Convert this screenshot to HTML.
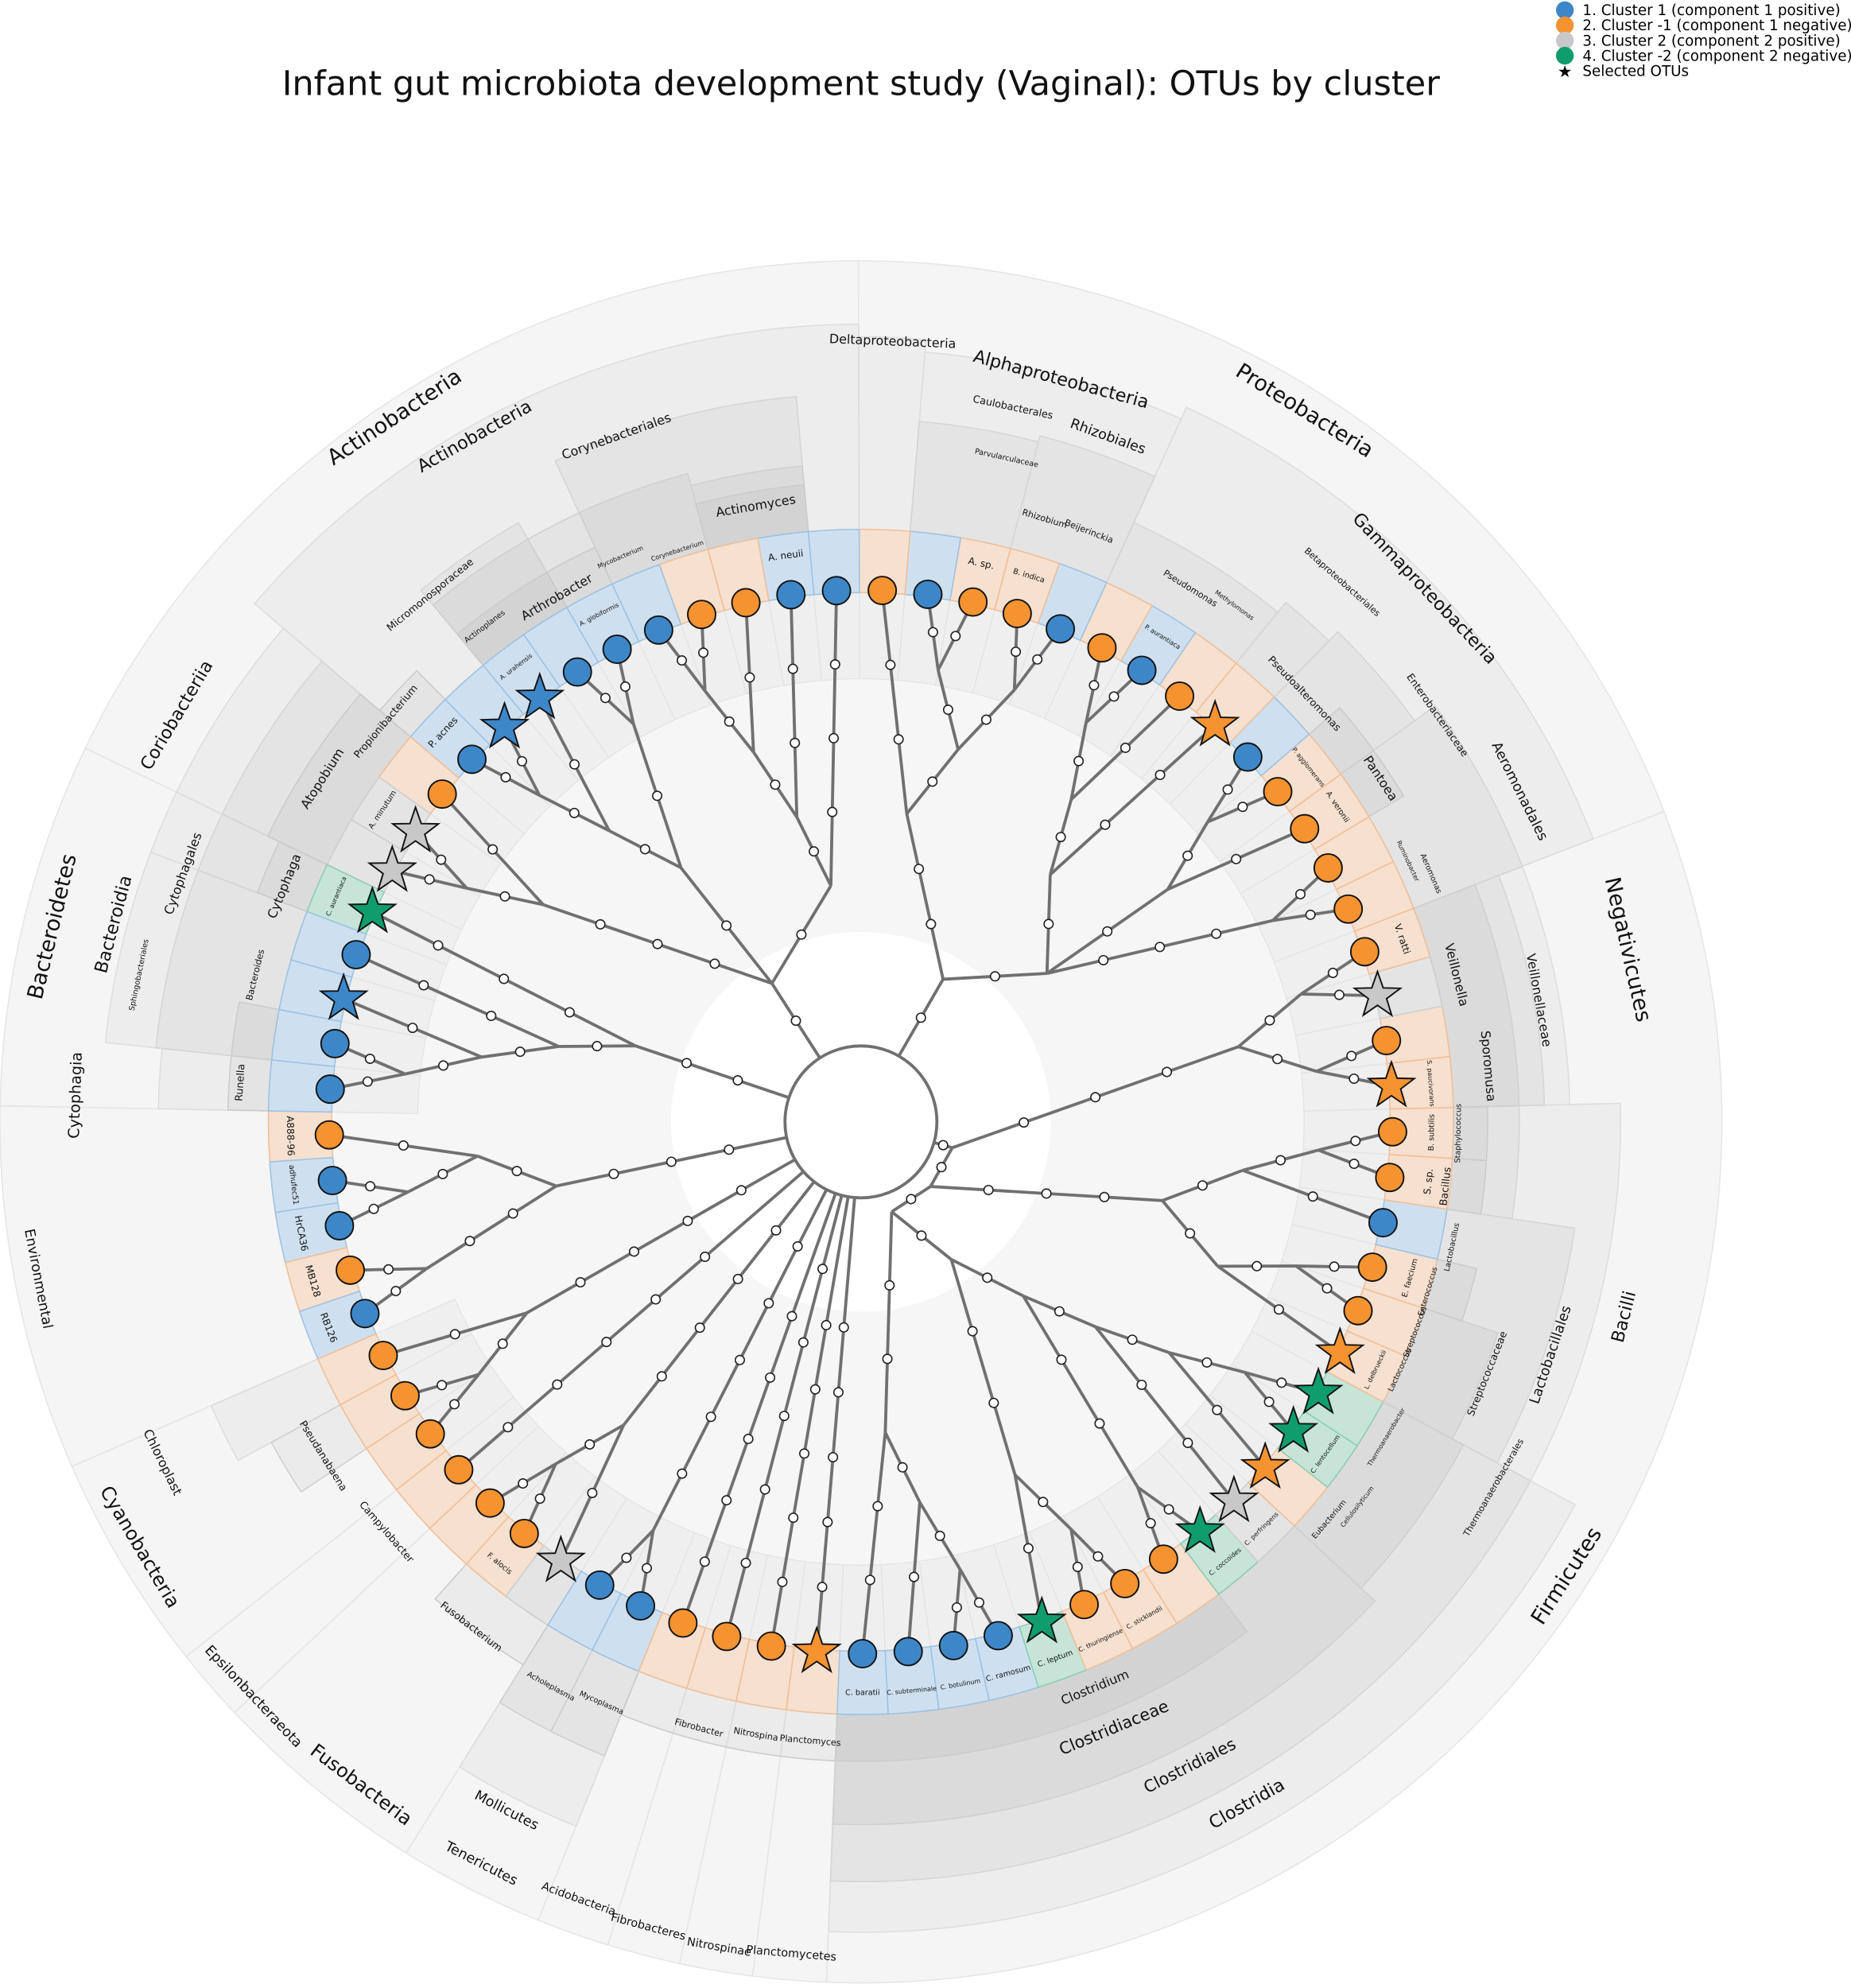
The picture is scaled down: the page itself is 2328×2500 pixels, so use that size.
<!DOCTYPE html>
<html><head><meta charset="utf-8">
<style>
html,body{margin:0;padding:0;background:#fff;}
svg{display:block;font-family:"DejaVu Sans","Liberation Sans",sans-serif;}
</style></head>
<body>
<svg id="chart" width="2328" height="2500" viewBox="0 0 1462 1570" xmlns="http://www.w3.org/2000/svg">
<rect x="0" y="0" width="1462" height="1570" fill="#ffffff"/>
<text x="680" y="75" font-size="27" text-anchor="middle" fill="#111">Infant gut microbiota development study (Vaginal): OTUs by cluster</text>
<g id="rings"></g>
<g id="tree"></g>
<g id="leaves"></g>
<g id="labels"></g>
<g>
<circle cx="1236" cy="8" r="7" fill="#3d87c8"/>
<text x="1250" y="12" font-size="11.5">1. Cluster 1 (component 1 positive)</text>
<circle cx="1236" cy="20" r="7" fill="#f59331"/>
<text x="1250" y="24" font-size="11.5">2. Cluster -1 (component 1 negative)</text>
<circle cx="1236" cy="32" r="7" fill="#c8c8c8"/>
<text x="1250" y="36" font-size="11.5">3. Cluster 2 (component 2 positive)</text>
<circle cx="1236" cy="44" r="7" fill="#0f9d6e"/>
<text x="1250" y="48" font-size="11.5">4. Cluster -2 (component 2 negative)</text>
<text x="1236" y="61" font-size="13" text-anchor="middle">★</text>
<text x="1250" y="60" font-size="11.5">Selected OTUs</text>
</g>
</svg>
<script>
// ---- data ----
const leafClusters = ["-1","1","1","-1","1","-1","-1","-1","-1","-1","-1","2","1","1","-1","-1","-1","-1",
 "1","1","1","1","-2","-1","-1","-1","-2","2","-1","-2","-2","-1","-1","-1","1","-1","-1","-1","-1","2","-1",
 "-1","-1","-1","-1","1","-1","-1","1","-1","1","-1","-1","1","-1","1","1","-1","-1","1","1","1","1","1","1","-1","2","2","-2","1","1","1","1"];
const leafSelected = [0,0,0,0,0,0,0,0,0,0,0,1,0,0,0,0,0,1,
 0,0,0,0,1,0,0,0,1,1,1,1,1,1,0,0,0,0,0,1,0,1,0,
 0,0,0,0,0,1,0,0,0,0,0,0,0,0,0,0,0,0,0,0,0,1,1,0,0,1,1,1,0,1,0,0];
const leafNames = ["A888-96","adhufec51","HrCA36","MB128","RB126","","","","","","F. alocis","","","","","","","",
 "C. baratii","C. subterminale","C. botulinum","C. ramosum","C. leptum","C. thuringiense","C. sticklandii","","C. coccoides","C. perfringens","","C. lentocellum","","L. delbrueckii","","E. faecium","","S. sp.","B. subtilis","S. paucivorans","","","V. ratti",
 "","","A. veronii","P. agglomerans","","","","P. aurantiaca","","","B. indica","A. sp.","","","","A. neuii","","","","A. globiformis","","A. urahensis","","P. acnes","","A. minutum","","C. aurantiaca","","","",""];
// tree topology (leaf numbers, 1-based)
const treeTopology = [
 [[1,[2,3]],[4,5]], [6,[7,8]], 9, [[10,11],12], [13,14], 15, 16, 17, 18,
 [[[[19,[20,[21,22]]],[[23,[24,25]],[[26,27],[28,[29,[30,31]]]]]],[[32,[33,34]],[35,[36,37]]]],[[38,39],[40,41]]],
 [[[42,43],[44,[45,46]],[47,[48,[49,50]]]],[[[51,52],[53,54]],55]],
 [[56,[57,[58,[59,60]]]],[[61,62],[63,[64,65]]],[66,[67,68]]],
 [69,[70,[71,[72,73]]]]
];
// taxonomy sectors: [firstLeaf, lastLeaf, outerRadius]
const phylumSectors = [[1,5,680],[6,8,680],[9,9,680],[10,12,680],[13,14,680],[15,15,680],[16,16,680],[17,17,680],[18,18,680],[19,41,680],[42,55,680],[56,68,680],[69,73,680]];
const classSectors = [[19,31,640],[32,37,600],[38,41,560],[42,50,620],[51,54,610],[55,55,620],[56,65,630],[66,68,600],[70,72,600],[73,73,555],[13,14,600],[6,6,560],[69,69,600]];
const orderSectors = [[19,31,600],[32,35,570],[36,37,520],[38,41,540],[42,44,560],[45,46,540],[47,47,530],[48,50,520],[51,52,560],[53,54,555],[57,60,575],[62,63,545],[69,69,560],[70,72,560],[66,68,560]];
const familySectors = [[19,28,555],[32,33,530],[38,41,520],[61,63,530],[57,58,520],[59,60,530],[29,31,540],[14,14,540],[13,13,540],[7,7,530]];
const genusSectors = [[19,26,505],[57,58,505],[61,63,500],[65,65,500],[34,34,500],[36,36,495],[37,37,495],[44,45,500],[66,68,520],[69,69,510],[72,73,500],[11,12,505],[15,18,505]];
// group labels: [text, x, y, size]
const groupLabels = [
 ["Actinobacteria",312,330,17],["Proteobacteria",1030,325,17],["Negativicutes",1285,750,17],["Firmicutes",1238,1245,17],
 ["Bacteroidetes",42,732,17],["Cyanobacteria",110,1222,15],["Fusobacteria",285,1410,15],
 ["Epsilonbacteraeota",200,1340,11],["Tenericutes",380,1472,11],["Acidobacteria",457,1500,9],["Fibrobacteres",512,1522,9],
 ["Nitrospinae",568,1538,9],["Planctomycetes",625,1543,9],["Environmental",30,1010,11],
 ["Actinobacteria",375,345,14],["Coriobacteriia",140,565,14],["Bacteroidia",90,730,14],["Alphaproteobacteria",838,300,14],
 ["Gammaproteobacteria",1125,465,14],["Bacilli",1283,1040,14],["Clostridia",985,1425,14],["Mollicutes",400,1430,11],
 ["Deltaproteobacteria",705,270,10],["Cytophagia",60,865,12],["Chloroplast",128,1155,10],
 ["Clostridiales",940,1395,13],["Lactobacillales",1225,1070,11],["Aeromonadales",1200,625,11],["Rhizobiales",875,345,11],
 ["Caulobacterales",800,322,8],["Corynebacteriales",487,345,10],["Cytophagales",145,690,10],["Betaproteobacteriales",1060,460,7],
 ["Thermoanaerobacterales",1180,1175,7],["Sphingobacteriales",110,770,6],
 ["Clostridiaceae",880,1365,13],["Veillonellaceae",1215,790,10],["Streptococcaceae",1175,1085,8],["Enterobacteriaceae",1135,565,8],
 ["Parvularculaceae",795,362,6],["Micromonosporaceae",340,470,8],
 ["Clostridium",865,1333,10],["Sporomusa",1175,842,10],["Veillonella",1150,770,10],["Bacillus",1142,937,8],["Staphylococcus",1152,895,6],
 ["Lactobacillus",1147,985,6],["Pantoea",1090,615,10],["Pseudoalteromonas",1030,548,8],["Pseudomonas",940,465,7],["Methylomonas",975,478,5],
 ["Rhizobium",825,410,7],["Beijerinckia",860,420,7],["Actinomyces",597,400,10],["Corynebacterium",535,435,5],["Mycobacterium",490,440,5],
 ["Arthrobacter",440,472,10],["Actinoplanes",383,495,6],["Propionibacterium",305,570,8],["Atopobium",255,615,10],["Cytophaga",225,700,10],
 ["Bacteroides",202,770,7],["Runella",190,855,8],["Pseudanabaena",255,1150,8],["Campylobacter",305,1210,8],["Fusobacterium",372,1285,8],
 ["Acholeplasma",435,1332,6],["Mycoplasma",475,1345,6],["Fibrobacter",552,1365,7],["Nitrospina",597,1370,7],["Planctomyces",640,1375,7],
 ["Eubacterium",1050,1200,6],["Streptococcus",1118,1052,6],["Enterococcus",1128,1020,6],["Aeromonas",1130,690,6],["Ruminobacter",1112,680,5],
 ["Cellulosilyticum",1072,1190,5],["Lactococcus",1106,1082,6],["Thermoanaerobacter",1095,1135,5]
];
// ---- geometry ----
const CX=680, CY=886, RLEAF=420, NL=leafClusters.length;
const STEP=360/NL, A0=178.6;
const ns="http://www.w3.org/2000/svg";
const fillC={"1":"#3d87c8","-1":"#f59331","2":"#c8c8c8","-2":"#0f9d6e"};
const bandC={"1":"#c7dcee","-1":"#f6dcc8","2":"#e0e0e0","-2":"#bde0d2"};
const bandS={"1":"#9fc3e3","-1":"#f1c09a","2":"#cfcfcf","-2":"#8fcdb4"};
function ang(i){return A0-(i-1)*STEP;}
function pt(r,a){const t=a*Math.PI/180;return [CX+r*Math.cos(t),CY+r*Math.sin(t)];}
function el(tag,attrs,parent){const e=document.createElementNS(ns,tag);for(const k in attrs)e.setAttribute(k,attrs[k]);parent.appendChild(e);return e;}
function sectorPath(r0,r1,a0,a1){
 const p1=pt(r1,a0),p2=pt(r1,a1),p3=pt(r0,a1),p4=pt(r0,a0);const lg=Math.abs(a1-a0)>180?1:0;
 const sw=a1>a0?1:0;
 return `M${p1[0]},${p1[1]} A${r1},${r1} 0 ${lg} ${sw} ${p2[0]},${p2[1]} L${p3[0]},${p3[1]} A${r0},${r0} 0 ${lg} ${1-sw} ${p4[0]},${p4[1]} Z`;
}
const rings=document.getElementById('rings');
let c=el('circle',{cx:CX,cy:CY,r:680,fill:'#f9f9f9'},rings);


c=el('circle',{cx:CX,cy:CY,r:418,fill:'#f6f6f6'},rings);


c=el('circle',{cx:CX,cy:CY,r:150,fill:'#ffffff'},rings);


function drawSectors(list,fill,stroke,name){
 list.forEach((s,k)=>{
  const a0=ang(s[0])+STEP/2, a1=ang(s[1])-STEP/2;
  const p=el('path',{d:sectorPath(RLEAF+48,s[2],a1,a0),fill:fill,stroke:stroke,'stroke-width':1},rings);
  
  
 });
}
drawSectors(phylumSectors,'rgba(120,120,120,0.03)','#e6e6e6','phylum-sector');
drawSectors(classSectors,'rgba(120,120,120,0.06)','#dedede','class-sector');
drawSectors(orderSectors,'rgba(120,120,120,0.07)','#d6d6d6','order-sector');
drawSectors(familySectors,'rgba(120,120,120,0.07)','#d0d0d0','family-sector');
drawSectors(genusSectors,'rgba(120,120,120,0.07)','#cccccc','genus-sector');
for(let i=1;i<=NL;i++){
 if(i<=5) continue;
 const a=ang(i);
 const p=el('path',{d:sectorPath(350,RLEAF-2,a-STEP/2,a+STEP/2),fill:'rgba(120,120,120,0.05)',stroke:'#e4e4e4','stroke-width':0.8},rings);
 
 
}
for(let i=1;i<=NL;i++){
 const a=ang(i),cl=leafClusters[i-1];
 const p=el('path',{d:sectorPath(RLEAF-2,RLEAF+48,a-STEP/2,a+STEP/2),fill:bandC[cl],'fill-opacity':0.85,stroke:bandS[cl],'stroke-width':1},rings);
 
 
}
// ---- tree ----
const tree=document.getElementById('tree');
const edges=[];
function layout(node){
 if(typeof node==='number') return {a:ang(node),h:0,r:RLEAF};
 const ch=node.map(layout);
 const h=1+Math.max(...ch.map(c=>c.h));
 const a=ch.reduce((s,c)=>s+c.a,0)/ch.length;
 const r=Math.max(75,RLEAF-58*h);
 ch.forEach(c=>edges.push([c,{a:a,r:r}]));
 return {a:a,h:h,r:r};
}
const rootKids=treeTopology.map(layout);
rootKids.forEach(k=>{edges.push([k,{a:k.a,r:60}]);});
edges.forEach((e,k)=>{
 const p=pt(e[0].r,e[0].a),q=pt(e[1].r,e[1].a);
 const l=el('line',{x1:p[0],y1:p[1],x2:q[0],y2:q[1],stroke:'#707070','stroke-width':2.4},tree);
 
 
});
const rc=el('circle',{cx:CX,cy:CY,r:60,fill:'#ffffff',stroke:'#707070','stroke-width':2.4},tree);


edges.forEach((e,k)=>{
 const p=pt(e[0].r,e[0].a),q=pt(e[1].r,e[1].a);
 const L=Math.hypot(p[0]-q[0],p[1]-q[1]);const n=Math.max(1,Math.floor(L/60));
 for(let j=1;j<=n;j++){
  const f=j/(n+1);if(e[0].r===RLEAF&&f<0.15)continue;
  const d=el('circle',{cx:q[0]+(p[0]-q[0])*f,cy:q[1]+(p[1]-q[1])*f,r:3.6,fill:'#fff',stroke:'#222','stroke-width':1},tree);
  
  
 }
});
// ---- leaves ----
const lg=document.getElementById('leaves');
function starPts(x,y,R,r0){let s=[];for(let k=0;k<10;k++){const rr=k%2?r0:R;const t=(-90+k*36)*Math.PI/180;s.push((x+rr*Math.cos(t)).toFixed(1)+','+(y+rr*Math.sin(t)).toFixed(1));}return s.join(' ');}
for(let i=1;i<=NL;i++){
 const a=ang(i),p=pt(RLEAF,a),cl=leafClusters[i-1];
 let m;
 if(leafSelected[i-1]){
  m=el('polygon',{points:starPts(p[0],p[1],19,7.6),fill:fillC[cl],stroke:'#111','stroke-width':1.2},lg);
 } else {
  m=el('circle',{cx:p[0],cy:p[1],r:11,fill:fillC[cl],stroke:'#111','stroke-width':1.2},lg);
 }
 
 
}
// ---- labels ----
const lb=document.getElementById('labels');
function tangRot(a){let n=((a%360)+360)%360;return (n>0&&n<180)?a-90:a+90;}
for(let i=1;i<=NL;i++){
 const nm=leafNames[i-1];if(!nm)continue;
 const a=ang(i),p=pt(RLEAF+31,a);
 const t=el('text',{x:p[0],y:p[1],'font-size':nm.length>11?5:(nm.length>8?6:7.5),'text-anchor':'middle','dominant-baseline':'middle',fill:'#111',transform:`rotate(${tangRot(a)} ${p[0]} ${p[1]})`},lb);
 t.textContent=nm;
 
 
}
groupLabels.forEach((g,k)=>{
 const a=Math.atan2(g[2]-CY,g[1]-CX)*180/Math.PI;
 const t=el('text',{x:g[1],y:g[2],'font-size':g[3],'text-anchor':'middle','dominant-baseline':'middle',fill:'#111',transform:`rotate(${tangRot(a)} ${g[1]} ${g[2]})`},lb);
 t.textContent=g[0];
 
 
});
</script>
</body></html>
